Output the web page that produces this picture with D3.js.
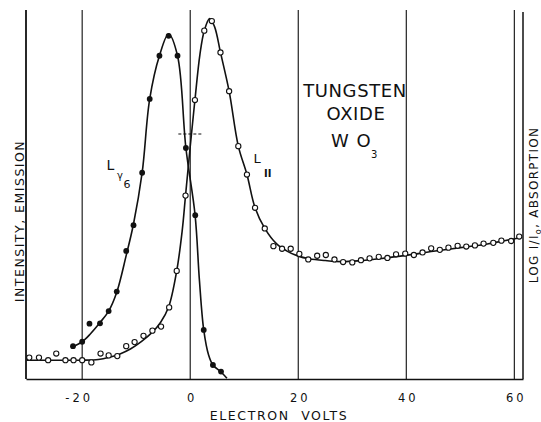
<!DOCTYPE html>
<html>
<head>
<meta charset="utf-8">
<script src="https://cdn.jsdelivr.net/npm/d3@7"></script>
<style>
body{margin:0;background:#fff}
svg{display:block}
text{font-family:"DejaVu Sans",sans-serif;fill:#111}
</style>
</head>
<body>
<svg id="chart" width="541" height="422"></svg>
<script>
// electron volts vs relative intensity (0 = baseline, 100 = top of frame)
var xTicks = [-20, 0, 20, 40, 60];

// L gamma 6 emission, filled dots
var emissionPoints = [
  [-21.7, 8.9], [-20.0, 10.1], [-18.65, 15.0], [-16.7, 15.1], [-15.1, 18.4],
  [-13.6, 23.7], [-11.85, 34.7], [-10.5, 41.7], [-8.9, 55.9], [-7.5, 75.9],
  [-5.7, 87.6], [-4.0, 93.0], [-2.35, 87.6], [-0.8, 62.6], [0.93, 44.4],
  [2.5, 13.3], [4.2, 3.8], [5.7, 2.0]
];
// hand drawn fit through the emission dots
var emissionCurve = [
  [-21.7, 8.8], [-20.0, 10.1], [-18.5, 12.2], [-16.7, 15.3], [-15.1, 18.4],
  [-13.6, 23.5], [-11.85, 33.5], [-10.5, 42], [-8.9, 55.9], [-7.5, 75.9],
  [-5.7, 87.6], [-4.0, 93.5], [-2.35, 87.6], [-0.8, 62.6], [0.9, 44.4],
  [1.7, 26.8], [2.5, 13.3], [3.4, 6.5], [4.2, 3.8], [5.7, 1.9], [6.8, 0.2]
];

// L II absorption, open dots
var absorptionPoints = [
  [-29.8, 5.8], [-28.0, 5.8], [-26.3, 5.1], [-24.8, 6.9], [-23.1, 5.1],
  [-21.6, 5.1], [-20.0, 5.1], [-18.3, 4.5], [-16.6, 6.9], [-15.1, 6.4],
  [-13.5, 6.2], [-11.85, 8.9], [-10.3, 10.0], [-8.65, 11.7], [-7.0, 13.1],
  [-5.4, 14.2], [-3.9, 19.4], [-2.5, 29.3], [-0.87, 49.7], [0.87, 75.6],
  [2.6, 94.4], [4.0, 97.0], [5.6, 88.5], [7.2, 78.0], [8.9, 63.1],
  [10.5, 55.4], [12.0, 46.4], [13.8, 40.8], [15.4, 36.0], [17.0, 35.3],
  [18.6, 35.3], [20.2, 33.9], [21.85, 32.4], [23.5, 33.4], [25.1, 33.6],
  [26.7, 32.4], [28.3, 31.7], [30.0, 31.6], [31.6, 32.2], [33.2, 32.7],
  [34.9, 33.1], [36.5, 32.8], [38.1, 33.8], [39.8, 34.0], [41.4, 33.6],
  [43.0, 34.3], [44.6, 35.4], [46.2, 35.0], [47.8, 35.6], [49.5, 36.1],
  [51.1, 35.9], [52.7, 36.2], [54.3, 36.7], [56.1, 36.9], [57.6, 37.5],
  [59.4, 37.4], [60.9, 38.6]
];
var absorptionCurve = [
  [-30.3, 5.1], [-25, 5.1], [-20, 5.1], [-17, 5.3], [-15, 5.9], [-13, 6.8],
  [-11, 8.2], [-9, 10.2], [-7, 12.7], [-5.5, 15.3], [-4, 19.5], [-2.5, 29.3],
  [-1.5, 40], [-0.87, 49.7], [0, 63], [0.87, 75.6], [1.8, 88], [2.6, 94.4],
  [3.6, 97.7], [4.5, 95.5], [5.6, 88.5], [7.2, 78.0], [8.9, 63.1], [10.5, 55.4],
  [12.0, 46.4], [13.8, 40.8], [16, 36.6], [18, 34.6], [20, 33.3], [22, 32.6],
  [25, 32.1], [28, 31.8], [31, 32.0], [35, 32.6], [40, 33.5], [45, 34.6],
  [50, 35.6], [55, 36.6], [61, 38.3]
];

// short dashed marker near the crossing
var halfMark = [[-2.2, 66.4], [2.4, 66.4]];

var svg = d3.select("#chart");
var x = d3.scaleLinear().domain([-30.4, 61.6]).range([26, 523]);
var y = d3.scaleLinear().domain([0, 100]).range([379, 10]);

// grid
svg.append("g").selectAll("line").data(xTicks).join("line")
  .attr("x1", d => x(d)).attr("x2", d => x(d))
  .attr("y1", y(100)).attr("y2", y(0))
  .attr("stroke", "#222").attr("stroke-width", 1.2);

var line = d3.line().x(d => x(d[0])).y(d => y(d[1])).curve(d3.curveCatmullRom.alpha(0.5));

svg.append("path").datum(emissionCurve).attr("d", line)
  .attr("fill", "none").attr("stroke", "#111").attr("stroke-width", 1.6);
svg.append("path").datum(absorptionCurve).attr("d", line)
  .attr("fill", "none").attr("stroke", "#111").attr("stroke-width", 1.6);

svg.append("path").datum(halfMark).attr("d", d3.line().x(d => x(d[0])).y(d => y(d[1])))
  .attr("stroke", "#111").attr("stroke-width", 1.1).attr("stroke-dasharray", "3,2");

svg.append("g").selectAll("circle").data(absorptionPoints).join("circle")
  .attr("cx", d => x(d[0])).attr("cy", d => y(d[1])).attr("r", 2.6)
  .attr("fill", "#fff").attr("stroke", "#111").attr("stroke-width", 1.1);
svg.append("g").selectAll("circle").data(emissionPoints).join("circle")
  .attr("cx", d => x(d[0])).attr("cy", d => y(d[1])).attr("r", 2.9)
  .attr("fill", "#111");

// frame
svg.append("line").attr("x1", 26).attr("x2", 26).attr("y1", 10).attr("y2", 379)
  .attr("stroke", "#111").attr("stroke-width", 1.8);
svg.append("line").attr("x1", 523).attr("x2", 523).attr("y1", 12).attr("y2", 379)
  .attr("stroke", "#111").attr("stroke-width", 1.5);

var xAxis = d3.axisBottom(x).tickValues(xTicks).tickSize(0).tickPadding(14.7)
  .tickFormat(d => String(d));
var gx = svg.append("g").attr("transform", "translate(0," + y(0) + ")").call(xAxis);
gx.select(".domain").attr("stroke", "#111").attr("stroke-width", 1.6);
gx.selectAll("text").attr("font-size", 11.5).attr("font-family", "DejaVu Sans")
  .attr("letter-spacing", 3).attr("fill", "#111")
  .attr("dx", d => d < 0 ? -3.5 : 1.5);

svg.append("text").attr("x", 279).attr("y", 420).attr("text-anchor", "middle")
  .attr("font-size", 12.5).attr("letter-spacing", 1.6).attr("word-spacing", 6)
  .text("ELECTRON VOLTS");

svg.append("text").attr("transform", "translate(23.5,221) rotate(-90)")
  .attr("text-anchor", "middle").attr("font-size", 12.5).attr("letter-spacing", 1.5)
  .text("INTENSITY, EMISSION");

var rl = svg.append("text").attr("transform", "translate(537.5,205) rotate(-90)")
  .attr("text-anchor", "middle").attr("font-size", 12).attr("letter-spacing", 1.3);
rl.append("tspan").text("LOG I/I");
rl.append("tspan").attr("font-size", 8).attr("dy", 3).text("o");
rl.append("tspan").attr("dy", -3).text(", ABSORPTION");

// title
svg.append("text").attr("x", 355).attr("y", 97).attr("text-anchor", "middle")
  .attr("font-size", 18).attr("letter-spacing", 0.6).text("TUNGSTEN");
svg.append("text").attr("x", 356).attr("y", 120).attr("text-anchor", "middle")
  .attr("font-size", 18).attr("letter-spacing", 0.6).text("OXIDE");
svg.append("text").attr("x", 331).attr("y", 147)
  .attr("font-size", 18).attr("word-spacing", 2).text("W O");
svg.append("text").attr("x", 371).attr("y", 158).attr("font-size", 10).text("3");

// series labels
svg.append("text").attr("x", 106.5).attr("y", 170).attr("font-size", 14).text("L");
svg.append("text").attr("x", 117).attr("y", 179).attr("font-size", 10).text("γ");
svg.append("text").attr("x", 123.5).attr("y", 188).attr("font-size", 11).text("6");
svg.append("text").attr("x", 253.5).attr("y", 163).attr("font-size", 13).text("L");
svg.append("text").attr("x", 264).attr("y", 176.5).attr("font-size", 10)
  .attr("font-family", "DejaVu Serif").attr("font-weight", "bold").text("II");
</script>
</body>
</html>
